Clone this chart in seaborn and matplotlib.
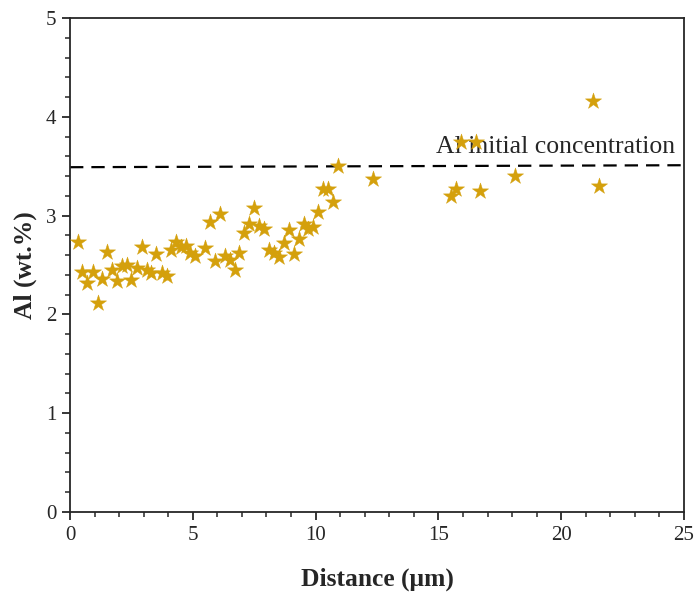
import matplotlib
matplotlib.use("Agg")
import matplotlib.pyplot as plt
import seaborn as sns
import pandas as pd
from matplotlib.ticker import MultipleLocator

distance = [0.31, 0.50, 0.70, 0.92, 1.12, 1.31, 1.51, 1.71, 1.91, 2.11,
            2.31, 2.50, 2.72, 2.92, 3.12, 3.31, 3.49, 3.73, 3.93, 4.11,
            4.30, 4.50, 4.72, 4.90, 5.10, 5.49, 5.69, 5.91, 6.11, 6.30,
            6.50, 6.70, 6.90, 7.10, 7.29, 7.51, 7.71, 7.91, 8.11, 8.30,
            8.50, 8.70, 8.90, 9.10, 9.31, 9.51, 9.71, 9.91, 10.10, 10.30,
            10.50, 10.72, 10.92, 12.32, 15.51, 15.71, 15.90, 16.52, 16.71, 18.10,
            21.31, 21.52]
al_wt = [2.73, 2.43, 2.32, 2.43, 2.12, 2.36, 2.63, 2.45, 2.34, 2.49,
         2.50, 2.35, 2.47, 2.68, 2.45, 2.42, 2.61, 2.42, 2.39, 2.65,
         2.73, 2.68, 2.69, 2.62, 2.59, 2.67, 2.94, 2.54, 3.02, 2.59,
         2.55, 2.45, 2.62, 2.82, 2.92, 3.08, 2.89, 2.86, 2.65, 2.62,
         2.58, 2.72, 2.85, 2.61, 2.76, 2.92, 2.86, 2.88, 3.04, 3.27,
         3.27, 3.14, 3.50, 3.37, 3.20, 3.27, 3.75, 3.75, 3.25, 3.40,
         4.16, 3.30]

ref_x = [0.0, 25.0]
ref_y = [3.49, 3.51]
ref_label = "Al initial concentration"

xlabel = "Distance (\u03bcm)"
ylabel = "Al (wt.%)"

sns.set_style("ticks")
plt.rcParams['font.family'] = ['Liberation Serif', 'DejaVu Serif']

fig = plt.figure(figsize=(6.94, 5.93), dpi=100)
ax = fig.add_axes([0.1009, 0.1366, 0.8847, 0.833])

df = pd.DataFrame({"x": distance, "y": al_wt})
sns.scatterplot(data=df, x="x", y="y", marker="*", s=150, color="#d4a00c",
                edgecolor="#d4a00c", linewidth=0.3, ax=ax, zorder=3)

ax.plot(ref_x, ref_y, color="black", lw=1.6, dashes=(6, 3.6), zorder=2)
ax.text(14.9, 3.585, ref_label, fontsize=18.5, ha="left", va="bottom", zorder=2)

ax.set_xlim(0, 25)
ax.set_ylim(0, 5)
ax.xaxis.set_major_locator(MultipleLocator(5))
ax.xaxis.set_minor_locator(MultipleLocator(1))
ax.yaxis.set_major_locator(MultipleLocator(1))
ax.yaxis.set_minor_locator(MultipleLocator(0.2))
ax.tick_params(which="major", direction="out", length=6, width=1.3, labelsize=15, pad=4)
ax.tick_params(which="minor", direction="out", length=3.5, width=1.1)
for sp in ax.spines.values():
    sp.set_linewidth(1.3)
    sp.set_visible(True)

ax.set_xlabel(xlabel, fontsize=18.4, fontweight="bold", labelpad=16)
ax.set_ylabel(ylabel, fontsize=18.4, fontweight="bold", labelpad=6)

fig.savefig("out.png", dpi=100)
